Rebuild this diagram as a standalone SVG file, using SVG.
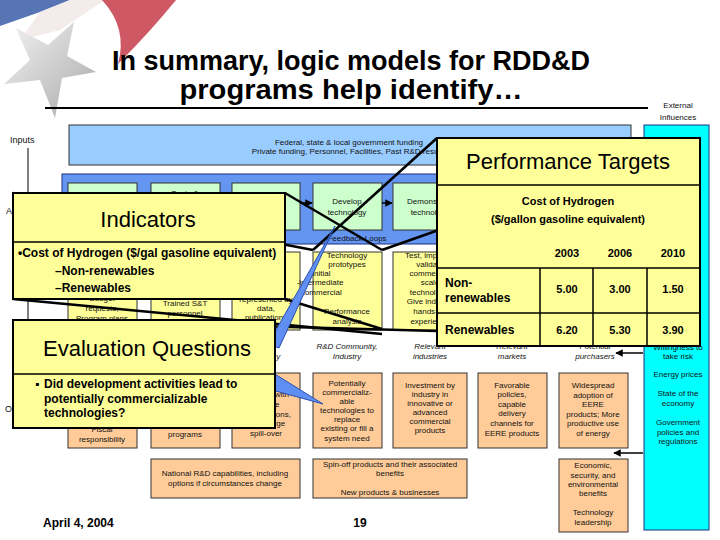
<svg xmlns="http://www.w3.org/2000/svg" width="720" height="540" viewBox="0 0 720 540">
<defs>
<style>
text{font-family:"Liberation Sans",Arial,sans-serif}
.s{font-size:8px;text-anchor:middle;fill:#111}
.it{font-style:italic}
.lbl{font-size:9px;fill:#111}
.bx{stroke:#333;stroke-width:1}
.act{fill:#ccffcc}
.out{fill:#ffff99}
.oc{fill:#ffcc99}
.ov{fill:#ffff99;stroke:#000;stroke-width:2}
.sep{stroke:#000;stroke-width:1.5}
.hd{font-size:22px;text-anchor:middle;fill:#000}
.b12{font-size:12px;font-weight:bold;fill:#000}
.b11{font-size:11px;font-weight:bold;fill:#000;text-anchor:middle}
.cl{stroke:#000;stroke-width:2.5;fill:none}
.ptr{fill:#5f8ff2;stroke:#2a4fb0;stroke-width:1}
.ar{stroke:#000;stroke-width:1.5;fill:none}
</style>
<marker id="ah" viewBox="0 0 10 10" refX="9" refY="5" markerWidth="5" markerHeight="5" orient="auto"><path d="M0,0 L10,5 L0,10 Z" fill="#000"/></marker>
<linearGradient id="star" x1="0" y1="0" x2="1" y2="1"><stop offset="0" stop-color="#f2f2f2"/><stop offset="1" stop-color="#9a9a9a"/></linearGradient>
</defs>
<rect width="720" height="540" fill="#fff"/>

<g id="logo" opacity="0.85">
<path d="M0,0 L70,0 L40,12 L0,26 Z" fill="#3a5ea8"/>
<path d="M40,12 L70,0 L105,0 L60,30 L20,40 Z" fill="#f3e8e8"/>
<path d="M102,0 L176,0 Q150,32 118,64 Q128,28 102,0 Z" fill="#c63c48"/>
<polygon points="74,22 67,56 96,72 62,78 55,118 40,80 4,84 30,60 16,28 48,45" fill="url(#star)"/>
</g>

<g id="title">
<text x="351" y="70" font-size="27" font-weight="bold" text-anchor="middle" textLength="478" lengthAdjust="spacingAndGlyphs">In summary, logic models for RDD&amp;D</text>
<text x="351" y="99" font-size="27" font-weight="bold" text-anchor="middle" textLength="343" lengthAdjust="spacingAndGlyphs">programs help identify…</text>
<line x1="45" y1="108" x2="648" y2="108" stroke="#000" stroke-width="2"/>
<text x="678" y="108" class="s" font-size="8.5">External</text>
<text x="678" y="120" class="s" font-size="8.5">Influences</text>
</g>

<g id="labels">
<text x="10" y="143" class="lbl">Inputs</text>
<line x1="28" y1="148" x2="28" y2="322" stroke="#000" stroke-width="1"/>
<text x="6" y="214" class="lbl">Activities</text>
<text x="5" y="412" class="lbl">Outcomes</text>
</g>

<g id="inputs">
<rect x="69" y="125" width="562" height="40" fill="#99ccff" stroke="#333"/>
<text x="349" y="145" class="s">Federal, state &amp; local government funding</text>
<text x="349" y="154" class="s">Private funding, Personnel, Facilities, Past R&amp;D results</text>
</g>

<g id="activities">
<rect x="62" y="174" width="578" height="70" fill="#6495f0" stroke="#1a2f80"/>
<rect x="68" y="183" width="69" height="47" class="bx act"/>
<rect x="151" y="183" width="69" height="47" class="bx act"/>
<rect x="232" y="183" width="68" height="47" class="bx act"/>
<rect x="313" y="183" width="69" height="47" class="bx act"/>
<rect x="393" y="183" width="74" height="47" class="bx act"/>
<text x="185" y="196" class="s">Basic &amp;</text>
<text x="347" y="204" class="s">Develop</text>
<text x="347" y="215" class="s">technology</text>
<text x="430" y="204" class="s">Demonstrate</text>
<text x="430" y="215" class="s">technology</text>
<line x1="300" y1="203" x2="312" y2="203" class="ar" marker-end="url(#ah)"/>
<line x1="382" y1="203" x2="392" y2="203" class="ar" marker-end="url(#ah)"/>
<text x="357" y="241" class="s">Feedback Loops</text>
</g>

<g id="outputs">
<rect x="68" y="252" width="69" height="78" class="bx out"/>
<rect x="151" y="252" width="69" height="78" class="bx out"/>
<rect x="232" y="252" width="68" height="78" class="bx out"/>
<rect x="313" y="252" width="69" height="78" class="bx out"/>
<rect x="393" y="252" width="74" height="78" class="bx out"/>
<text x="102" y="301" class="s">Budget</text>
<text x="102" y="311" class="s">requests,</text>
<text x="102" y="321" class="s">Program plans</text>
<text x="185" y="306" class="s">Trained S&amp;T</text>
<text x="185" y="316" class="s">personnel</text>
<text x="266" y="302" class="s">represented by</text>
<text x="266" y="311" class="s">data,</text>
<text x="266" y="320" class="s">publications</text>
<text x="347" y="258" class="s">Technology</text>
<text x="347" y="267" class="s">prototypes</text>
<text x="320" y="276" class="s" text-anchor="start">-initial</text>
<text x="320" y="285" class="s" text-anchor="start">-intermediate</text>
<text x="320" y="295" class="s" text-anchor="start">-commercial</text>
<text x="347" y="314" class="s">Performance</text>
<text x="347" y="324" class="s">analysis</text>
<text x="430" y="258" class="s">Test, improve,</text>
<text x="430" y="267" class="s">validate</text>
<text x="430" y="276" class="s">commercial</text>
<text x="430" y="285" class="s">scale</text>
<text x="430" y="295" class="s">technology.</text>
<text x="430" y="304" class="s">Give industry</text>
<text x="430" y="314" class="s">hands-on</text>
<text x="430" y="324" class="s">experience</text>
</g>

<g id="audience">
<text x="266" y="359" class="s it">Industry</text>
<text x="347" y="349" class="s it">R&amp;D Community,</text>
<text x="347" y="359" class="s it">Industry</text>
<text x="430" y="349" class="s it">Relevant</text>
<text x="430" y="359" class="s it">industries</text>
<text x="512" y="349" class="s it">Relevant</text>
<text x="512" y="359" class="s it">markets</text>
<text x="595" y="349" class="s it">Potential</text>
<text x="595" y="359" class="s it">purchasers</text>
</g>

<g id="outcomes">
<rect x="68" y="373" width="69" height="75" class="bx oc"/>
<rect x="151" y="373" width="69" height="75" class="bx oc"/>
<rect x="232" y="373" width="68" height="75" class="bx oc"/>
<rect x="313" y="373" width="69" height="75" class="bx oc"/>
<rect x="393" y="373" width="74" height="75" class="bx oc"/>
<rect x="478" y="373" width="69" height="75" class="bx oc"/>
<rect x="559" y="373" width="69" height="75" class="bx oc"/>
<text x="102" y="432" class="s">Fiscal</text>
<text x="102" y="442" class="s">responsibility</text>
<text x="185" y="437" class="s">programs</text>
<text x="266" y="387" class="s">Networks &amp;</text>
<text x="266" y="397" class="s">linkages with</text>
<text x="266" y="407" class="s">science</text>
<text x="266" y="417" class="s">organizations,</text>
<text x="266" y="426" class="s">knowledge</text>
<text x="266" y="436" class="s">spill-over</text>
<text x="347" y="386" class="s">Potentially</text>
<text x="347" y="395" class="s">commercializ-</text>
<text x="347" y="404" class="s">able</text>
<text x="347" y="413" class="s">technologies to</text>
<text x="347" y="422" class="s">replace</text>
<text x="347" y="431" class="s">existing or fill a</text>
<text x="347" y="441" class="s">system need</text>
<text x="430" y="388" class="s">Investment by</text>
<text x="430" y="397" class="s">industry in</text>
<text x="430" y="406" class="s">innovative or</text>
<text x="430" y="415" class="s">advanced</text>
<text x="430" y="424" class="s">commercial</text>
<text x="430" y="433" class="s">products</text>
<text x="512" y="388" class="s">Favorable</text>
<text x="512" y="397" class="s">policies,</text>
<text x="512" y="407" class="s">capable</text>
<text x="512" y="416" class="s">delivery</text>
<text x="512" y="426" class="s">channels for</text>
<text x="512" y="436" class="s">EERE products</text>
<text x="593" y="388" class="s">Widespread</text>
<text x="593" y="398" class="s">adoption of</text>
<text x="593" y="407" class="s">EERE</text>
<text x="593" y="417" class="s">products; More</text>
<text x="593" y="426" class="s">productive use</text>
<text x="593" y="436" class="s">of energy</text>
</g>

<g id="longterm">
<rect x="151" y="459" width="149" height="39" class="bx oc"/>
<text x="225" y="476" class="s">National R&amp;D capabilities, including</text>
<text x="225" y="486" class="s">options if circumstances change</text>
<rect x="313" y="459" width="154" height="39" class="bx oc"/>
<text x="390" y="467" class="s">Spin-off products and their associated</text>
<text x="390" y="476" class="s">benefits</text>
<text x="390" y="495" class="s">New products &amp; businesses</text>
<rect x="559" y="459" width="69" height="73" class="bx oc"/>
<text x="593" y="468" class="s">Economic,</text>
<text x="593" y="478" class="s">security, and</text>
<text x="593" y="487" class="s">environmental</text>
<text x="593" y="496" class="s">benefits</text>
<text x="593" y="515" class="s">Technology</text>
<text x="593" y="525" class="s">leadership</text>
</g>

<g id="external">
<rect x="644" y="125" width="65" height="405" fill="#00ffff" stroke="#1a2f80"/>
<text x="678" y="350" class="s">Willingness to</text>
<text x="678" y="359" class="s">take risk</text>
<text x="678" y="377" class="s">Energy prices</text>
<text x="678" y="396" class="s">State of the</text>
<text x="678" y="406" class="s">economy</text>
<text x="678" y="425" class="s">Government</text>
<text x="678" y="435" class="s">policies and</text>
<text x="678" y="444" class="s">regulations</text>
<line x1="643" y1="353" x2="616" y2="353" class="ar" stroke-width="2" marker-end="url(#ah)"/>
<line x1="643" y1="453" x2="614" y2="453" class="ar" stroke-width="2" marker-end="url(#ah)"/>
</g>

<g id="footer">
<text x="43" y="527" font-size="12" font-weight="bold">April 4, 2004</text>
<text x="360" y="527" font-size="12" font-weight="bold" text-anchor="middle">19</text>
</g>

<g id="connectors">
<line x1="13" y1="193" x2="313" y2="250" class="cl"/>
<line x1="285" y1="193" x2="382" y2="250" class="cl"/>
<line x1="13" y1="299" x2="382" y2="334" class="cl"/>
<line x1="285" y1="299" x2="382" y2="329" class="cl"/>
<line x1="250" y1="326" x2="437" y2="331" class="cl"/>
<line x1="437" y1="138" x2="313" y2="250" class="cl"/>
<line x1="700" y1="138" x2="382" y2="250" class="cl"/>
</g>

<g id="indicators">
<rect x="13" y="193" width="272" height="106" class="ov"/>
<line x1="13" y1="242" x2="285" y2="242" class="sep"/>
<text x="148" y="227" class="hd">Indicators</text>
<text x="18" y="257" class="b12">•Cost of Hydrogen ($/gal gasoline equivalent)</text>
<text x="55" y="275" class="b12">–Non-renewables</text>
<text x="55" y="292" class="b12">–Renewables</text>
</g>

<g id="performance">
<rect x="437" y="138" width="263" height="208" class="ov"/>
<line x1="437" y1="185" x2="700" y2="185" class="sep"/>
<text x="568" y="169" class="hd" font-size="21">Performance Targets</text>
<text x="568" y="205" class="b11">Cost of Hydrogen</text>
<text x="568" y="223" class="b11">($/gallon gasoline equivalent)</text>
<text x="567" y="257" class="b11">2003</text>
<text x="620" y="257" class="b11">2006</text>
<text x="673" y="257" class="b11">2010</text>
<line x1="437" y1="268" x2="700" y2="268" class="sep"/>
<line x1="437" y1="313" x2="700" y2="313" class="sep"/>
<line x1="540" y1="268" x2="540" y2="346" class="sep"/>
<line x1="593" y1="268" x2="593" y2="346" class="sep"/>
<line x1="647" y1="268" x2="647" y2="346" class="sep"/>
<text x="445" y="287" class="b12">Non-</text>
<text x="445" y="302" class="b12">renewables</text>
<text x="567" y="293" class="b11">5.00</text>
<text x="620" y="293" class="b11">3.00</text>
<text x="673" y="293" class="b11">1.50</text>
<text x="445" y="334" class="b12">Renewables</text>
<text x="567" y="334" class="b11">6.20</text>
<text x="620" y="334" class="b11">5.30</text>
<text x="673" y="334" class="b11">3.90</text>
</g>

<g id="evaluation">
<polygon points="335,226 279,348 268,344" class="ptr"/>
<polygon points="270,371 272,390 323,404" class="ptr"/>
<rect x="13" y="320" width="262" height="108" class="ov"/>
<line x1="13" y1="374" x2="275" y2="374" class="sep"/>
<text x="147" y="356" class="hd">Evaluation Questions</text>
<text x="35" y="388" class="b12">▪</text>
<text x="44" y="388" class="b12">Did development activities lead to</text>
<text x="44" y="403" class="b12">potentially commercializable</text>
<text x="44" y="417" class="b12">technologies?</text>
</g>
</svg>
